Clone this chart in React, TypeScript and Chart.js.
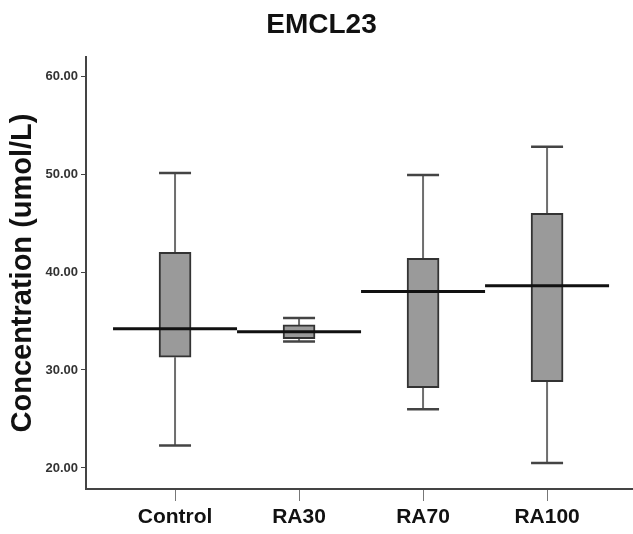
import React, { useEffect, useRef } from "react";
import { Chart, registerables } from "chart.js";

Chart.register(...registerables);

const categories = ["Control", "RA30", "RA70", "RA100"];
const whiskerLow = [22.3, 32.9, 26.0, 20.5];
const quartile1 = [31.3, 33.2, 28.2, 28.8];
const medians = [34.2, 33.9, 38.0, 38.6];
const quartile3 = [42.0, 34.6, 41.4, 46.0];
const whiskerHigh = [50.1, 35.3, 49.9, 52.8];
const yTickValues = [20, 30, 40, 50, 60];
const chartTitle = "EMCL23";
const yAxisTitle = "Concentration (umol/L)";

const FONT = "'Liberation Sans', Arial, Helvetica, sans-serif";

const boxPlugin = {
  id: "boxWhiskers",
  beforeDatasetsDraw(chart: any) {
    const { ctx } = chart;
    const x = chart.scales.x;
    const y = chart.scales.y;
    const meta = chart.getDatasetMeta(0);
    ctx.save();
    categories.forEach((_, i) => {
      const bar = meta.data[i];
      const half = (bar ? bar.width : 32) / 2;
      const cx = x.getPixelForValue(i);
      const yHigh = y.getPixelForValue(whiskerHigh[i]);
      const yLow = y.getPixelForValue(whiskerLow[i]);
      const yQ3 = y.getPixelForValue(quartile3[i]);
      const yQ1 = y.getPixelForValue(quartile1[i]);
      ctx.strokeStyle = "#6e6e6e";
      ctx.lineWidth = 2;
      ctx.beginPath();
      ctx.moveTo(cx, yQ3);
      ctx.lineTo(cx, yHigh);
      ctx.moveTo(cx, yQ1);
      ctx.lineTo(cx, yLow);
      ctx.stroke();
      ctx.strokeStyle = "#444";
      ctx.lineWidth = 2.5;
      ctx.beginPath();
      ctx.moveTo(cx - half, yHigh);
      ctx.lineTo(cx + half, yHigh);
      ctx.moveTo(cx - half, yLow);
      ctx.lineTo(cx + half, yLow);
      ctx.stroke();
    });
    ctx.restore();
  },
  afterDatasetsDraw(chart: any) {
    const { ctx } = chart;
    const x = chart.scales.x;
    const y = chart.scales.y;
    ctx.save();
    ctx.strokeStyle = "#111";
    ctx.lineWidth = 3;
    ctx.lineCap = "butt";
    categories.forEach((_, i) => {
      const ym = y.getPixelForValue(medians[i]);
      ctx.beginPath();
      ctx.moveTo(x.getPixelForValue(i - 0.5), ym);
      ctx.lineTo(x.getPixelForValue(i + 0.5), ym);
      ctx.stroke();
    });
    ctx.restore();
  },
};

export default function App() {
  const canvasRef = useRef<HTMLCanvasElement | null>(null);

  useEffect(() => {
    if (!canvasRef.current) return;
    Chart.defaults.font.family = FONT;
    const chart = new Chart(canvasRef.current, {
      type: "bar",
      data: {
        datasets: [
          {
            label: "IQR",
            data: categories.map((_, i) => ({ x: i, y: [quartile1[i], quartile3[i]] })) as any,
            backgroundColor: "#9a9a9a",
            borderColor: "#333",
            borderWidth: 2,
            borderSkipped: false,
            barThickness: 32,
          },
        ],
      },
      options: {
        animation: false,
        responsive: false,
        devicePixelRatio: 1,
        layout: { padding: { left: 10, right: 0, top: 0, bottom: 0 } },
        plugins: {
          legend: { display: false },
          tooltip: { enabled: false },
          title: {
            display: true,
            text: chartTitle,
            color: "#111",
            font: { family: FONT, size: 28, weight: "bold" },
            padding: { top: 8, bottom: 15.4 },
          },
        },
        scales: {
          x: {
            type: "linear",
            offset: false,
            min: -0.718,
            max: 3.693,
            afterBuildTicks: (s: any) => {
              s.ticks = categories.map((_, i) => ({ value: i }));
            },
            afterFit: (s: any) => {
              s.height = 45;
            },
            ticks: {
              autoSkip: false,
              maxRotation: 0,
              padding: 4,
              color: "#111",
              font: { family: FONT, size: 21, weight: "bold" },
              callback: (v: any) => categories[Math.round(Number(v))] ?? "",
            },
            grid: {
              offset: false,
              drawOnChartArea: false,
              drawTicks: true,
              tickLength: 12,
              color: "#777",
              lineWidth: 1,
            },
            border: { display: true, color: "#444", width: 2 },
          },
          y: {
            type: "linear",
            min: 17.85,
            max: 61.95,
            afterBuildTicks: (s: any) => {
              s.ticks = yTickValues.map((v) => ({ value: v }));
            },
            afterFit: (s: any) => {
              s.width = 76;
            },
            ticks: {
              padding: 3,
              color: "#333",
              font: { family: FONT, size: 13, weight: "bold" },
              callback: (v: any) => Number(v).toFixed(2),
            },
            grid: {
              drawOnChartArea: false,
              drawTicks: true,
              tickLength: 5,
              color: "#444",
              lineWidth: 1,
            },
            border: { display: true, color: "#444", width: 2 },
            title: {
              display: true,
              text: yAxisTitle,
              color: "#111",
              font: { family: FONT, size: 29, weight: "bold" },
              padding: { top: -4, bottom: 0 },
            },
          },
        },
      },
      plugins: [boxPlugin],
    });
    return () => chart.destroy();
  }, []);

  return (
    <div style={{ position: "fixed", left: 0, top: 0, width: 633, height: 534, background: "#fff" }}>
      <canvas ref={canvasRef} width={633} height={534} style={{ width: 633, height: 534, display: "block" }} />
    </div>
  );
}
